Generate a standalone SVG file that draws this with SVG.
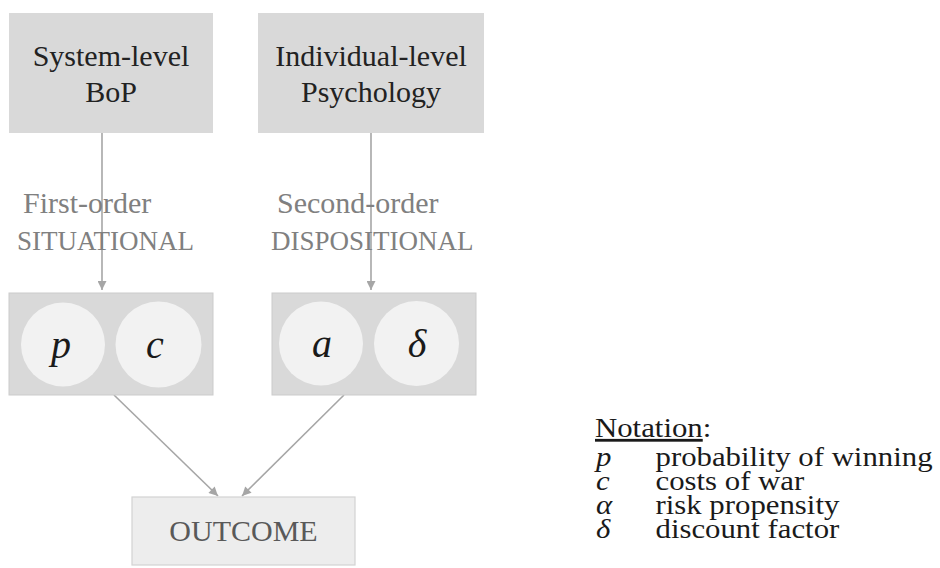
<svg xmlns="http://www.w3.org/2000/svg" width="940" height="568" viewBox="0 0 940 568">
  <style>
    .top { fill: #d9d9d9; }
    .mid { fill: #d9d9d9; stroke: #cbcbcb; stroke-width: 1; }
    .bubble { fill: #f2f2f2; }
    .out { fill: #ededed; stroke: #d3d3d3; stroke-width: 1.2; }
    .title { font-family: "Liberation Serif", "Times New Roman", serif; font-size: 30px; fill: #222222; text-anchor: middle; }
    .lab { font-family: "Liberation Serif", "Times New Roman", serif; fill: #808080; }
    .sym { font-family: "Liberation Serif", "Times New Roman", serif; font-style: italic; font-size: 40px; fill: #1a1a1a; text-anchor: middle; }
    .outtxt { font-family: "Liberation Serif", "Times New Roman", serif; font-size: 30px; fill: #595959; text-anchor: middle; }
    .note { font-family: "Liberation Serif", "Times New Roman", serif; font-size: 28px; fill: #1a1a1a; }
    .conn { stroke: #a6a6a6; stroke-width: 1.6; fill: none; marker-end: url(#head); }
  </style>
  <defs>
    <marker id="head" viewBox="0 0 10 10" refX="10" refY="5" markerWidth="11" markerHeight="9" markerUnits="userSpaceOnUse" orient="auto">
      <path d="M0,0 L10,5 L0,10 Z" fill="#a6a6a6"/>
    </marker>
  </defs>

  <!-- source boxes -->
  <g id="system-level">
    <rect class="top" x="9" y="13" width="204" height="120"/>
    <text class="title" x="111" y="66">System-level</text>
    <text class="title" x="111" y="102">BoP</text>
  </g>
  <g id="individual-level">
    <rect class="top" x="258" y="13" width="226" height="120"/>
    <text class="title" x="371" y="66">Individual-level</text>
    <text class="title" x="371" y="102">Psychology</text>
  </g>

  <!-- connectors -->
  <g id="connectors">
    <line class="conn" x1="102" y1="133" x2="102" y2="290"/>
    <line class="conn" x1="371" y1="133" x2="371" y2="290"/>
    <line class="conn" x1="114" y1="395" x2="218" y2="496"/>
    <line class="conn" x1="344" y1="395" x2="242" y2="496"/>
  </g>

  <!-- connector labels -->
  <g id="label-first-order">
    <text class="lab" x="23" y="213" font-size="30">First-order</text>
    <text class="lab" x="17" y="250" font-size="27">SITUATIONAL</text>
  </g>
  <g id="label-second-order">
    <text class="lab" x="277" y="213" font-size="30">Second-order</text>
    <text class="lab" x="271" y="250" font-size="27">DISPOSITIONAL</text>
  </g>

  <!-- parameter groups -->
  <g id="situational-params">
    <rect class="mid" x="9" y="293" width="204" height="102"/>
    <circle class="bubble" cx="63" cy="344.5" r="42"/>
    <circle class="bubble" cx="158.5" cy="344.5" r="43"/>
    <text class="sym" x="61" y="358">p</text>
    <text class="sym" x="155" y="358">c</text>
  </g>
  <g id="dispositional-params">
    <rect class="mid" x="272" y="293" width="204" height="102"/>
    <circle class="bubble" cx="321" cy="343.5" r="42"/>
    <circle class="bubble" cx="416.5" cy="343.5" r="42.5"/>
    <text class="sym" x="322" y="357">a</text>
    <text class="sym" x="417" y="357">δ</text>
  </g>

  <!-- outcome -->
  <g id="outcome">
    <rect class="out" x="132" y="497" width="223" height="68"/>
    <text class="outtxt" x="243.5" y="541">OUTCOME</text>
  </g>

  <!-- notation legend, set slightly wide -->
  <g id="notation" transform="translate(595,0) scale(1.1,1) translate(-595,0)">
    <text class="note" x="595" y="437"><tspan text-decoration="underline">Notation</tspan>:</text>
    <text class="note" x="596" y="466" font-style="italic">p</text>
    <text class="note" x="650" y="466">probability of winning</text>
    <text class="note" x="596" y="490" font-style="italic">c</text>
    <text class="note" x="650" y="490">costs of war</text>
    <text class="note" x="596" y="514" font-style="italic">α</text>
    <text class="note" x="650" y="514">risk propensity</text>
    <text class="note" x="596" y="538" font-style="italic">δ</text>
    <text class="note" x="650" y="538">discount factor</text>
  </g>
</svg>
